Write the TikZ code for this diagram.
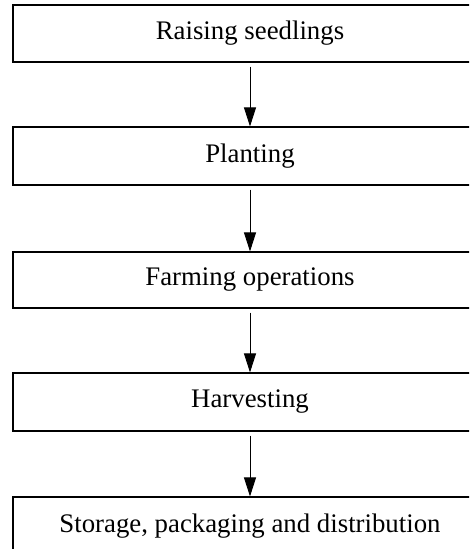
\documentclass[tikz,border=0pt]{standalone}
\usepackage{fontspec}
\setmainfont{Liberation Serif}
\usetikzlibrary{arrows.meta}
\begin{document}
\begin{tikzpicture}[x=1pt,y=1pt,
  stepbox/.style={draw=black, line width=1.1pt, minimum width=474pt, inner sep=0pt, font=\fontsize{26.8}{32}\selectfont},
  flow/.style={line width=0.9pt, -{Triangle[width=12pt,length=19pt]}, shorten <=4pt}]
\useasboundingbox (0,0) rectangle (469,-549);
\clip (0,0) rectangle (469,-549);
\node[stepbox, minimum height=57pt] (b1) at (250,-33.5) {Raising seedlings};
\node[stepbox, minimum height=58pt] (b2) at (250,-156) {Planting};
\node[stepbox, minimum height=56pt] (b3) at (250,-280) {Farming operations};
\node[stepbox, minimum height=58pt] (b4) at (250,-402) {Harvesting};
\node[stepbox, minimum height=58pt] (b5) at (250,-526) {Storage, packaging and distribution};
\draw[flow] (b1.south) -- (b2.north);
\draw[flow] (b2.south) -- (b3.north);
\draw[flow] (b3.south) -- (b4.north);
\draw[flow] (b4.south) -- (b5.north);
\end{tikzpicture}
\end{document}
